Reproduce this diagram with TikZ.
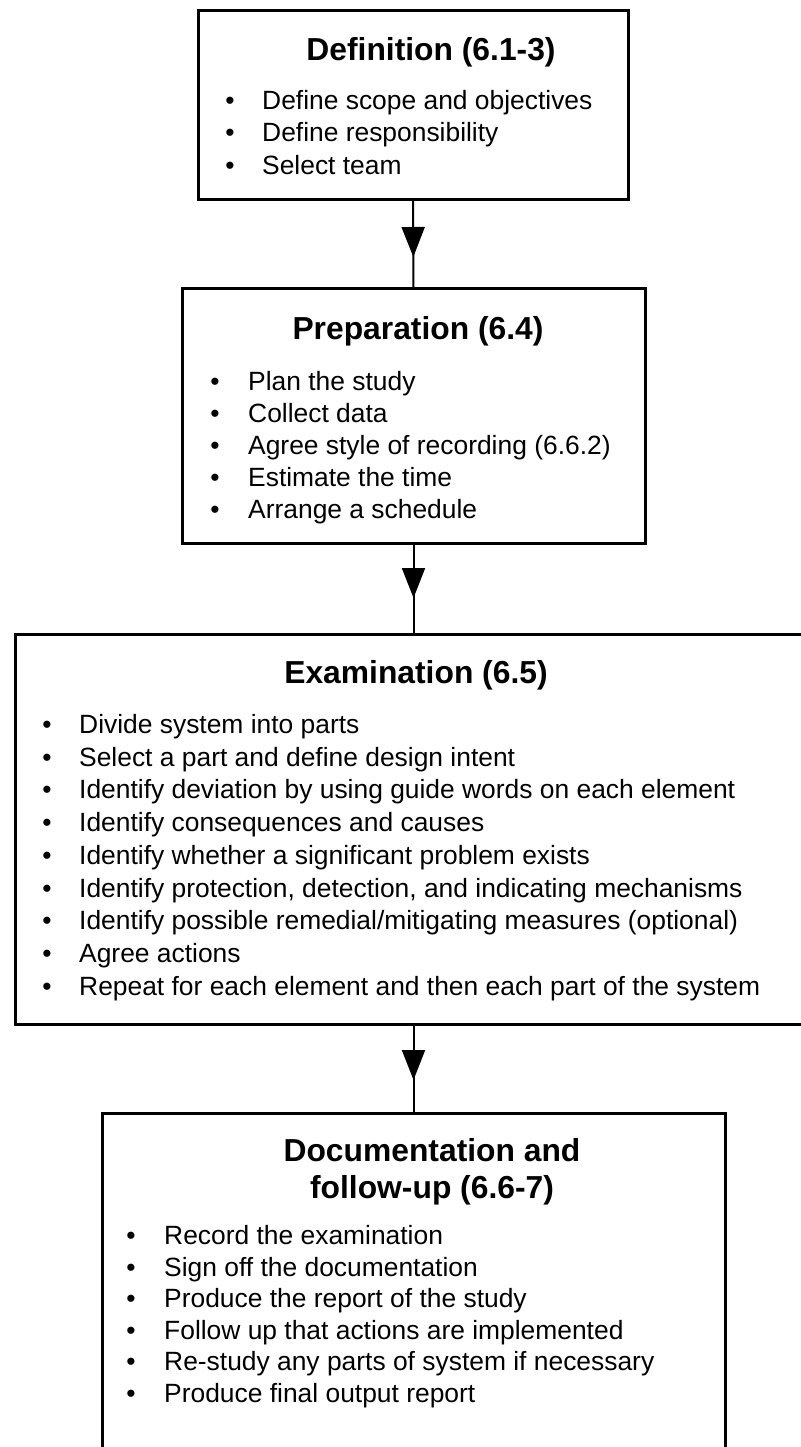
\documentclass[tikz,border=0pt]{standalone}
\usepackage{fontspec}
\setmainfont{Liberation Sans}
\usetikzlibrary{arrows.meta,decorations.markings}
\begin{document}
\begin{tikzpicture}[x=1pt,y=-1pt,
  boxnode/.style={draw=black,line width=3pt,rectangle,inner sep=0pt,outer sep=0pt},
  titletext/.style={anchor=base,inner sep=0pt,font=\fontsize{31.8}{37}\selectfont\bfseries},
  itemtext/.style={anchor=base west,inner sep=0pt,font=\fontsize{26.4}{32}\selectfont},
  bullettext/.style={anchor=base,inner sep=0pt,font=\fontsize{26.4}{32}\selectfont},
  conn/.style={line width=2pt,postaction={decorate}},
  tipat/.style={decoration={markings,mark=at position #1 with {\arrow{Triangle[width=23pt,length=30pt]}}}}
]
\useasboundingbox (0,0) rectangle (800,1447);
% boxes
\node[boxnode,minimum width=430pt,minimum height=189pt] (b1) at (413,105.5) {};
\node[boxnode,minimum width=463pt,minimum height=255pt] (b2) at (413.5,415.5) {};
\node[boxnode,minimum width=825pt,minimum height=390pt] (b3) at (427.5,829) {};
\node[boxnode,minimum width=623pt,minimum height=367pt] (b4) at (413.5,1296.5) {};
% box 1
\node[titletext] (t1) at (431,61) {Definition (6.1-3)};
\foreach \i/\t in {0/{Define scope and objectives},1/{Define responsibility},2/{Select team}}{
  \node[bullettext] (d1b\i) at (230,109.5+32.5*\i) {•};
  \node[itemtext] (d1t\i) at (262,109.5+32.5*\i) {\t};
}
% box 2
\node[titletext] (t2) at (418,339) {Preparation (6.4)};
\foreach \i/\t in {0/{Plan the study},1/{Collect data},2/{Agree style of recording (6.6.2)},3/{Estimate the time},4/{Arrange a schedule}}{
  \node[bullettext] (d2b\i) at (215,390.5+32*\i) {•};
  \node[itemtext] (d2t\i) at (248,390.5+32*\i) {\t};
}
% box 3
\node[titletext] (t3) at (416,683) {Examination (6.5)};
\foreach \i/\t in {0/{Divide system into parts},1/{Select a part and define design intent},2/{Identify deviation by using guide words on each element},3/{Identify consequences and causes},4/{Identify whether a significant problem exists},5/{Identify protection, detection, and indicating mechanisms},6/{Identify possible remedial/mitigating measures (optional)},7/{Agree actions},8/{Repeat for each element and then each part of the system}}{
  \node[bullettext] (d3b\i) at (47,733.5+32.7*\i) {•};
  \node[itemtext] (d3t\i) at (79,733.5+32.7*\i) {\t};
}
% box 4
\node[titletext] (t4a) at (432,1161) {Documentation and};
\node[titletext] (t4b) at (432,1198) {follow-up (6.6-7)};
\foreach \i/\t in {0/{Record the examination},1/{Sign off the documentation},2/{Produce the report of the study},3/{Follow up that actions are implemented},4/{Re-study any parts of system if necessary},5/{Produce final output report}}{
  \node[bullettext] (d4b\i) at (131,1244.5+31.5*\i) {•};
  \node[itemtext] (d4t\i) at (164,1244.5+31.5*\i) {\t};
}
% connectors
\draw[conn,tipat=57pt] (b1.south) -- (b2.north);
\draw[conn,tipat=55pt] (b2.south) -- (b2.south |- b3.north);
\draw[conn,tipat=56pt] (b3.south -| b2.south) -- (b4.north);
\end{tikzpicture}
\end{document}
